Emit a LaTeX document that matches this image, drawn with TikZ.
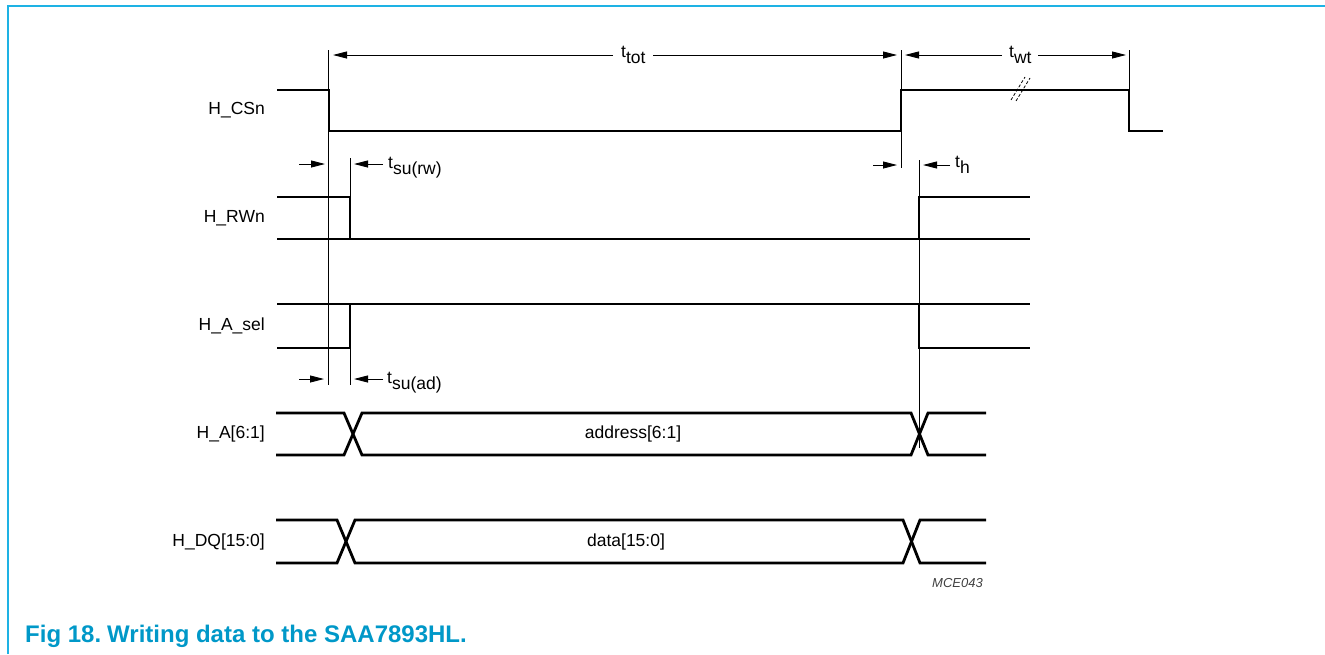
\documentclass[tikz,border=0pt]{standalone}
\usepackage{fontspec}
\setmainfont{Liberation Sans}
\usetikzlibrary{arrows.meta}
\definecolor{framecol}{RGB}{30,178,228}
\definecolor{capcol}{RGB}{0,152,200}
\newcommand\tsub[1]{t\raisebox{-6.5pt}{#1}}
\begin{document}
\begin{tikzpicture}[x=1pt,y=-1pt,
  font=\fontsize{17.5}{20}\selectfont,
  sig/.style={line width=2.8pt, line join=miter},
  guide/.style={line width=0.9pt},
  dim/.style={line width=0.9pt, -{Triangle[length=14pt,width=7pt]}},
  lbl/.style={anchor=east, inner sep=0pt},
  tl/.style={anchor=base west, inner sep=0pt},
  breakmark/.style={line width=0.8pt, dash pattern=on 3pt off 2pt}]
\useasboundingbox (0,0) rectangle (1325,654);
% frame
\draw[framecol, line width=2pt] (8,654) -- (8,6) -- (1325,6);
% signal labels
\node[lbl] (lcs) at (265,110.5) {H\_CSn};
\node[lbl] (lrw) at (265,218) {H\_RWn};
\node[lbl] (las) at (265,326) {H\_A\_sel};
\node[lbl] (lad) at (265,434) {H\_A[6:1]};
\node[lbl] (ldq) at (265,541.5) {H\_DQ[15:0]};
% H_CSn
\draw[sig] (277,90) -- (329,90) -- (329,131) -- (901,131) -- (901,90) -- (1129,90) -- (1129,131) -- (1163,131);
% H_RWn
\draw[sig] (277,197) -- (350,197) -- (350,239);
\draw[sig] (277,239) -- (1030,239);
\draw[sig] (919,239) -- (919,197) -- (1030,197);
% H_A_sel
\draw[sig] (277,304) -- (1030,304);
\draw[sig] (277,348) -- (350,348) -- (350,304);
\draw[sig] (919,304) -- (919,348) -- (1030,348);
% address bus
\draw[sig] (276,413) -- (344,413) -- (362,455) -- (911,455) -- (928,413) -- (986,413);
\draw[sig] (276,455) -- (344,455) -- (362,413) -- (911,413) -- (928,455) -- (986,455);
\node[inner sep=0pt] (addr) at (633,434) {address[6:1]};
% data bus
\draw[sig] (276,520) -- (337,520) -- (355,563) -- (903,563) -- (920,520) -- (986,520);
\draw[sig] (276,563) -- (337,563) -- (355,520) -- (903,520) -- (920,563) -- (986,563);
\node[inner sep=0pt] (dat) at (626,541.5) {data[15:0]};
% break mark
\draw[breakmark] (1011,100) -- (1025,77);
\draw[breakmark] (1016,101) -- (1030,78);
% guide lines
\draw[guide] (328.5,50) -- (328.5,385);
\draw[guide] (350,158) -- (350,197);
\draw[guide] (350,348) -- (350,385);
\draw[guide] (901,50) -- (901,90);
\draw[guide] (901,131) -- (901,168);
\draw[guide] (1129,50) -- (1129,90);
\draw[guide] (919,160) -- (919,197);
\draw[guide] (919,239) -- (919,304);
\draw[guide] (919,348) -- (919,448);
% t_tot
\node[tl] (ttot) at (621,57) {\tsub{tot}};
\coordinate (tt1) at (613,55); \coordinate (tt1e) at (333,55);
\coordinate (tt2) at (653,55); \coordinate (tt2e) at (897,55);
\draw[dim] (tt1) -- (tt1e);
\draw[dim] (tt2) -- (tt2e);
% t_wt
\node[tl] (twt) at (1009,57) {\tsub{wt}};
\coordinate (tw1) at (1002,55); \coordinate (tw1e) at (905,55);
\coordinate (tw2) at (1038,55); \coordinate (tw2e) at (1126,55);
\draw[dim] (tw1) -- (tw1e);
\draw[dim] (tw2) -- (tw2e);
% t_su(rw)
\node[tl] (tsurw) at (388,168) {\tsub{su(rw)}};
\coordinate (sr1) at (299,164); \coordinate (sr1e) at (325,164);
\coordinate (sr2) at (383,164); \coordinate (sr2e) at (354,164);
\draw[dim] (sr1) -- (sr1e);
\draw[dim] (sr2) -- (sr2e);
% t_su(ad)
\node[tl] (tsuad) at (387,383) {\tsub{su(ad)}};
\coordinate (sa1) at (299,379); \coordinate (sa1e) at (324,379);
\coordinate (sa2) at (383,379); \coordinate (sa2e) at (354,379);
\draw[dim] (sa1) -- (sa1e);
\draw[dim] (sa2) -- (sa2e);
% t_h
\node[tl] (th) at (955,167) {\tsub{h}};
\coordinate (h1) at (873,165); \coordinate (h1e) at (897,165);
\coordinate (h2) at (950,165); \coordinate (h2e) at (923,165);
\draw[dim] (h1) -- (h1e);
\draw[dim] (h2) -- (h2e);
% code
\node[anchor=base east, inner sep=0pt, font=\fontsize{13}{15}\selectfont\itshape, text=black!75] (code) at (983,587) {MCE043};
% caption
\node[anchor=base west, inner sep=0pt, font=\fontsize{24}{28}\selectfont\bfseries, text=capcol] (cap1) at (25,642) {Fig 18.};
\node[anchor=base west, inner sep=0pt, font=\fontsize{24}{28}\selectfont\bfseries, text=capcol] (cap2) at (107,642) {Writing data to the SAA7893HL.};
\end{tikzpicture}
\end{document}
